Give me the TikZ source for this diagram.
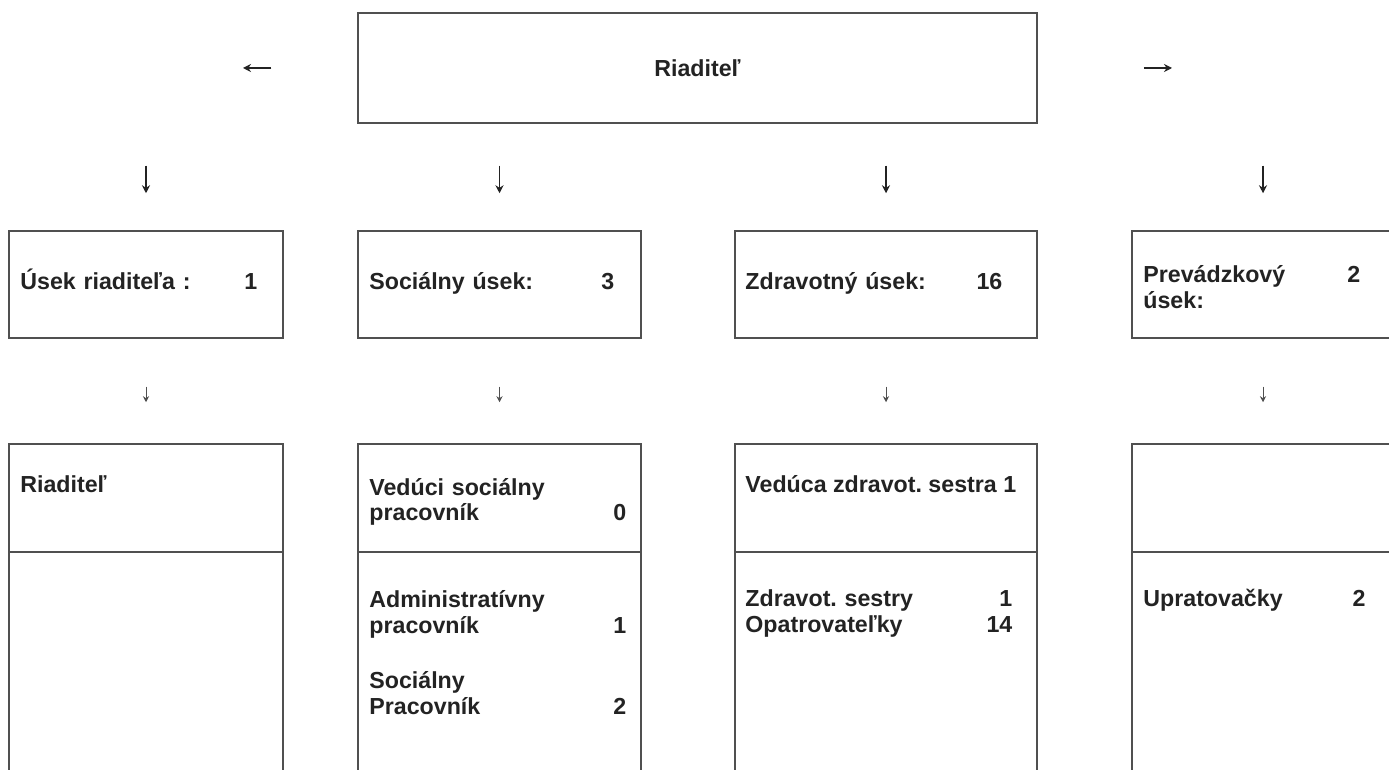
\documentclass[tikz,border=0pt]{standalone}
\usepackage{fontspec}
\setmainfont{Liberation Sans}
\frenchspacing
\usetikzlibrary{positioning, arrows.meta, calc}
\definecolor{linegray}{RGB}{80,80,80}
\definecolor{textgray}{RGB}{35,35,35}

\begin{document}
\begin{tikzpicture}[
  x=0.5pt, y=-0.5pt,
  orgbox/.style={draw=linegray, line width=0.75pt, inner sep=0pt},
  lbl/.style={anchor=base west, inner sep=0pt, align=left, text=textgray,
              font=\fontsize{11.6}{13}\selectfont\bfseries},
  arrow/.style={-{Stealth[length=4pt, width=4pt]}, line width=0.6pt, textgray},
  smallarrow/.style={-{Stealth[length=3pt, width=3pt]}, line width=0.45pt, linegray}
]
  \clip (0,0) rectangle (1389,770);
  \fill[white] (0,0) rectangle (1389,770);

  % top
  \node[orgbox, minimum width=339.5pt, minimum height=55pt, text=textgray,
        font=\fontsize{11.6}{13}\selectfont\bfseries] (riad) at (697.5,68) {Riaditeľ};

  % sections
  \node[orgbox, minimum width=137pt, minimum height=53.5pt] (u1) at (146,284.5) {};
  \node[orgbox, minimum width=141.5pt, minimum height=53.5pt] (u2) at (499.5,284.5) {};
  \node[orgbox, minimum width=151pt, minimum height=53.5pt] (u3) at (886,284.5) {};
  \node[orgbox, minimum width=131pt, minimum height=53.5pt] (u4) at (1263,284.5) {};

  \node[lbl, text width=118.5pt] (l1) at (20,290) {Úsek riaditeľa :\hfill 1};
  \node[lbl, text width=122.5pt] (l2) at (369,290) {Sociálny úsek:\hfill 3};
  \node[lbl, text width=128.5pt] (l3) at (745,290) {Zdravotný úsek:\hfill 16};
  \node[lbl, text width=108.5pt] (l4) at (1143,283) {Prevádzkový\hfill 2\\úsek:};

  % staff: head part and rest
  \node[orgbox, minimum width=137pt, minimum height=54pt] (h1) at (146,498) {};
  \node[orgbox, minimum width=141.5pt, minimum height=54pt] (h2) at (499.5,498) {};
  \node[orgbox, minimum width=151pt, minimum height=54pt] (h3) at (886,498) {};
  \node[orgbox, minimum width=131pt, minimum height=54pt] (h4) at (1263,498) {};
  \node[orgbox, minimum width=137pt, minimum height=124pt] (s1) at (146,676) {};
  \node[orgbox, minimum width=141.5pt, minimum height=124pt] (s2) at (499.5,676) {};
  \node[orgbox, minimum width=151pt, minimum height=124pt] (s3) at (886,676) {};
  \node[orgbox, minimum width=131pt, minimum height=124pt] (s4) at (1263,676) {};

  \node[lbl] (m1) at (20,493) {Riaditeľ};
  \node[lbl, text width=128.5pt] (m2) at (369,495) {Vedúci sociálny\\pracovník\hfill 0};
  \node[lbl] (m3) at (745,493) {Vedúca zdravot. sestra 1};

  \node[lbl, text width=128.5pt] (n2) at (369,608)
    {Administratívny\\pracovník\hfill 1\\[14.5pt]Sociálny\\Pracovník\hfill 2};
  \node[lbl, text width=133.5pt] (n3) at (745,607) {Zdravot. sestry\hfill 1\\Opatrovateľky\hfill 14};
  \node[lbl, text width=111pt] (n4) at (1143,607) {Upratovačky\hfill 2};

  % arrows
  \draw[arrow, shorten <=43pt, shorten >=48.5pt] (riad.west) -- (riad.west -| u1.north);
  \draw[arrow, shorten <=53pt, shorten >=45.5pt] (riad.east) -- (riad.east -| u4.north);
  \draw[arrow, shorten <=21pt, shorten >=18.5pt] (riad.south -| u1.north) -- (u1.north);
  \draw[arrow, shorten <=21pt, shorten >=18.5pt] (riad.south -| u2.north) -- (u2.north);
  \draw[arrow, shorten <=21pt, shorten >=18.5pt] (riad.south -| u3.north) -- (u3.north);
  \draw[arrow, shorten <=21pt, shorten >=18.5pt] (riad.south -| u4.north) -- (u4.north);
  \draw[smallarrow, shorten <=24pt, shorten >=20.5pt] (u1) -- (h1);
  \draw[smallarrow, shorten <=24pt, shorten >=20.5pt] (u2) -- (h2);
  \draw[smallarrow, shorten <=24pt, shorten >=20.5pt] (u3) -- (h3);
  \draw[smallarrow, shorten <=24pt, shorten >=20.5pt] (u4) -- (h4);
\end{tikzpicture}
\end{document}
